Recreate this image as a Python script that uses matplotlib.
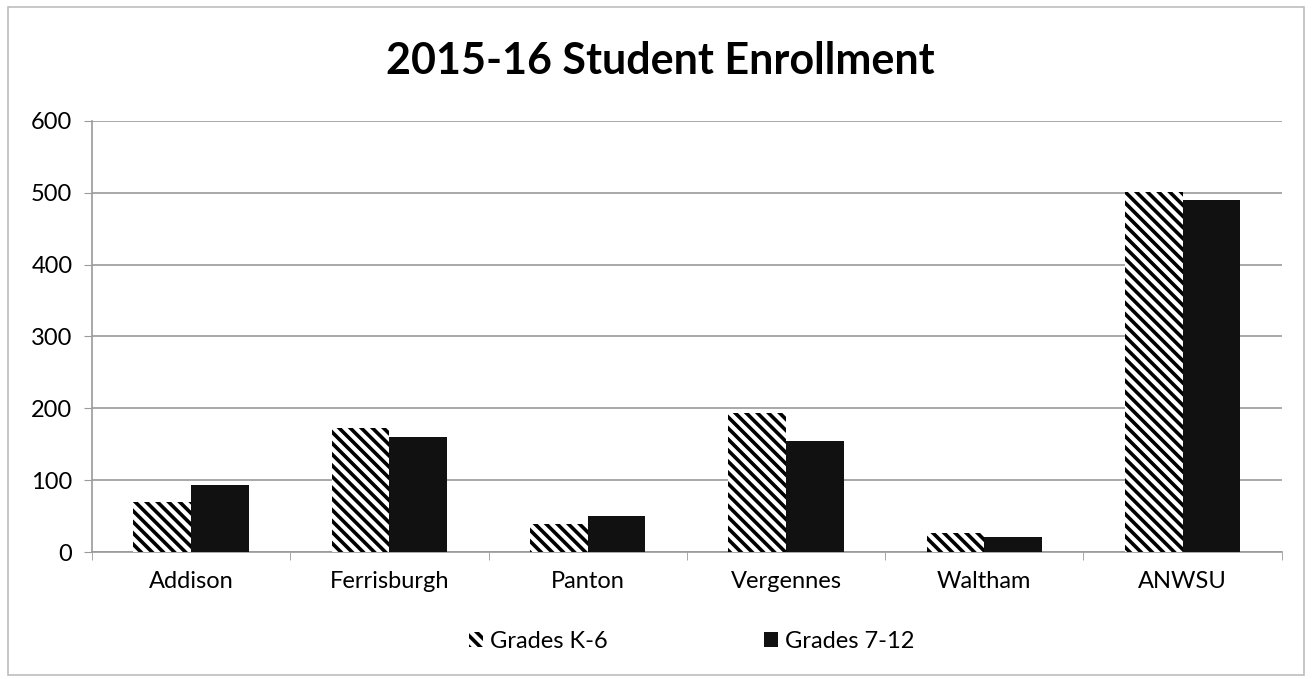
import matplotlib.pyplot as plt
import matplotlib.patches as mpatches
import numpy as np

plt.rcParams['font.family'] = ['Lato', 'DejaVu Sans']
plt.rcParams['hatch.linewidth'] = 2.6

schools = ['Addison', 'Ferrisburgh', 'Panton', 'Vergennes', 'Waltham', 'ANWSU']
grades_k6 = [70, 173, 39, 194, 26, 501]
grades_712 = [93, 160, 50, 155, 21, 490]

fig = plt.figure(figsize=(13.12, 6.79), dpi=100)
fig.patches.append(mpatches.Rectangle((0.006, 0.006), 0.988, 0.984, transform=fig.transFigure,
                                      fill=False, edgecolor='#bdbdbd', linewidth=1.2))
ax = fig.add_axes([0.070, 0.187, 0.907, 0.635])

x = np.arange(len(schools))
w = 0.29
ax.bar(x - w / 2, grades_k6, w, color='white', edgecolor='black', hatch='\\\\\\', linewidth=0,
       label='Grades K-6', zorder=3)
ax.bar(x + w / 2, grades_712, w, color='#111111', linewidth=0, label='Grades 7-12', zorder=3)

ax.set_xlim(-0.5, len(schools) - 0.5)
ax.set_ylim(0, 600)
ax.set_yticks(range(0, 601, 100))
ax.yaxis.grid(True, color='#9a9a9a', linewidth=1.2, zorder=0)
ax.set_xticks(x)
ax.set_xticklabels(schools)
ax.set_xticks(np.arange(-0.5, len(schools), 1), minor=True)
ax.tick_params(axis='x', which='major', length=0, pad=14, labelsize=17)
ax.tick_params(axis='x', which='minor', length=6, color='#9a9a9a')
ax.tick_params(axis='y', length=6, color='#9a9a9a', labelsize=17, pad=8)
for s in ['top', 'right']:
    ax.spines[s].set_visible(False)
ax.spines['left'].set_color('#9a9a9a')
ax.spines['bottom'].set_color('#9a9a9a')
ax.spines['left'].set_linewidth(1.2)
ax.spines['bottom'].set_linewidth(1.2)

fig.text(0.503, 0.91, '2015-16 Student Enrollment', ha='center', va='center',
         fontsize=31, fontweight='bold')

fig.legend(loc='center', bbox_to_anchor=(0.527, 0.055), ncol=2, frameon=False, fontsize=17,
           handlelength=0.6, handleheight=0.6, handletextpad=0.3, columnspacing=6.6)

fig.savefig('out.png', dpi=100)
